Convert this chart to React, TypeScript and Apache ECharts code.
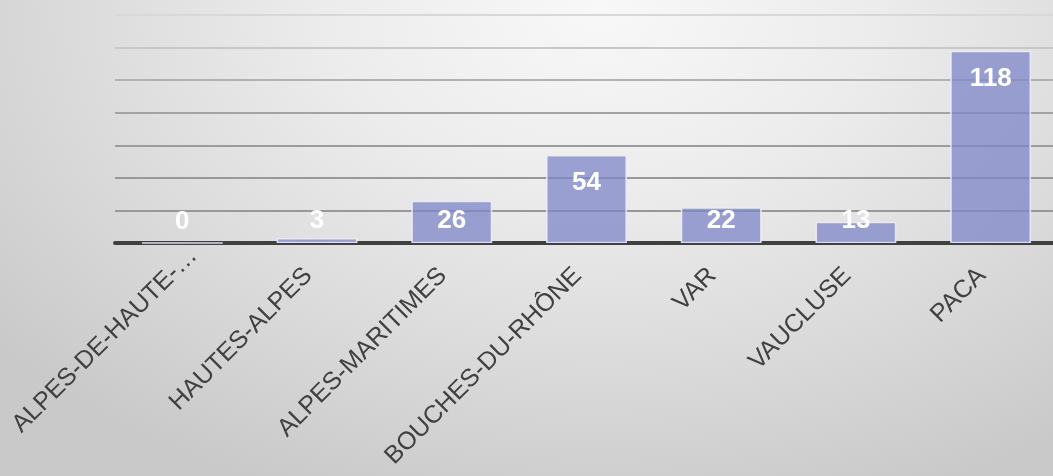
import React, { useEffect, useRef } from "react";
import * as echarts from "echarts";

const categories = [
  "ALPES-DE-HAUTE-…",
  "HAUTES-ALPES",
  "ALPES-MARITIMES",
  "BOUCHES-DU-RHÔNE",
  "VAR",
  "VAUCLUSE",
  "PACA",
];
const values = [0, 3, 26, 54, 22, 13, 118];
const axisMax = 140;
const axisInterval = 20;
const gridColors = ["#9a9a9a", "#989898", "#999999", "#9c9c9c", "#a3a3a3", "#b2b2b2", "#c8c8c8", "#d8d8d8"];

export default function App() {
  const ref = useRef<HTMLDivElement>(null);
  useEffect(() => {
    if (!ref.current) return;
    const chart = echarts.init(ref.current, undefined, { renderer: "svg" });
    const data = values.map((v) => ({
      value: v,
      label: v >= 33
        ? { position: "insideTop", distance: 13 }
        : { position: "insideBottom", distance: 11 },
    }));
    const catData = categories.map((c, i) => ({
      value: c,
      textStyle: {
        verticalAlign: "top",
        lineHeight: 27,
        padding: i === 0 ? [0, 0, 0, 0] : [0, 28, 0, 0],
      },
    }));
    chart.setOption({
      animation: false,
      backgroundColor: "transparent",
      grid: {
        left: 115,
        right: -5,
        top: 15,
        bottom: 233,
        containLabel: false,
        outerBoundsMode: "none",
      },
      xAxis: {
        type: "category",
        data: catData,
        axisLine: { show: true, lineStyle: { color: "#404040", width: 4 } },
        axisTick: { show: false },
        axisLabel: {
          rotate: 45,
          interval: 0,
          margin: -2,
          color: "#404040",
          fontFamily: "Liberation Sans, Arial, sans-serif",
          fontSize: 25,
        },
      },
      yAxis: {
        type: "value",
        min: 0,
        max: axisMax,
        interval: axisInterval,
        axisLabel: { show: false },
        axisLine: { show: false },
        axisTick: { show: false },
        splitLine: { show: true, lineStyle: { color: gridColors, width: 2 } },
      },
      series: [
        {
          type: "bar",
          data,
          barWidth: "60%",
          itemStyle: {
            color: "rgba(125,133,200,0.75)",
            borderColor: "rgba(235,237,250,0.9)",
            borderWidth: 1.5,
          },
          label: {
            show: true,
            color: "#ffffff",
            fontWeight: "bold",
            fontSize: 26,
            fontFamily: "Liberation Sans, Arial, sans-serif",
          },
        },
      ],
    });
    return () => chart.dispose();
  }, []);
  return (
    <div
      style={{
        position: "fixed",
        left: 0,
        top: 0,
        width: 1053,
        height: 476,
        background:
          "radial-gradient(ellipse 75% 110% at 57% 2%, #f8f8f8 0%, #ececec 35%, #dcdcdc 65%, #c9c9c9 100%)",
      }}
    >
      <div ref={ref} style={{ width: 1053, height: 476 }} />
    </div>
  );
}
